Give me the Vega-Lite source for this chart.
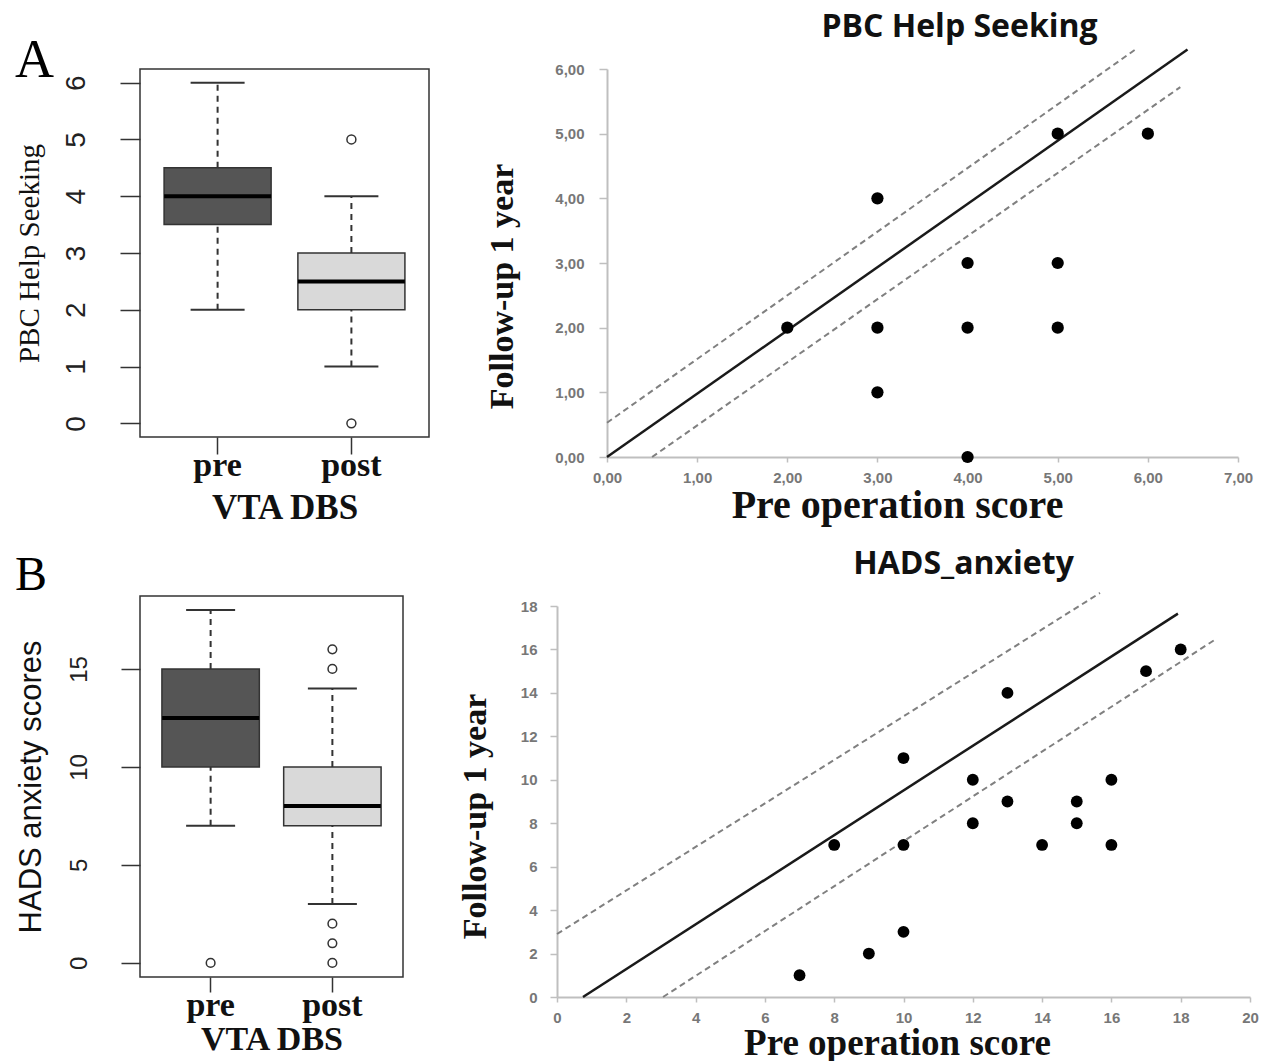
{
  "$schema": "https://vega.github.io/schema/vega-lite/v6.json",
  "background": "white",
  "padding": {"left": 14, "top": 10, "right": 0, "bottom": 0},
  "config": {"view": {"stroke": null}, "axis": {"grid": false, "labelOverlap": false}},
  "datasets": {
    "boxA": [
      {"grp": "pre", "lo": 2, "q1": 3.5, "med": 4, "q3": 4.5, "hi": 6},
      {"grp": "post", "lo": 1, "q1": 2, "med": 2.5, "q3": 3, "hi": 4}
    ],
    "outA": [{"grp": "post", "v": 5}, {"grp": "post", "v": 0}],
    "boxB": [
      {"grp": "pre", "lo": 7, "q1": 10, "med": 12.5, "q3": 15, "hi": 18},
      {"grp": "post", "lo": 3, "q1": 7, "med": 8, "q3": 10, "hi": 14}
    ],
    "outB": [
      {"grp": "pre", "v": 0}, {"grp": "post", "v": 16}, {"grp": "post", "v": 15},
      {"grp": "post", "v": 2}, {"grp": "post", "v": 1}, {"grp": "post", "v": 0}
    ],
    "ptsA": [
      {"pre": 2, "post": 2}, {"pre": 3, "post": 4}, {"pre": 3, "post": 2}, {"pre": 3, "post": 1},
      {"pre": 4, "post": 3}, {"pre": 4, "post": 2}, {"pre": 4, "post": 0}, {"pre": 5, "post": 5},
      {"pre": 5, "post": 3}, {"pre": 5, "post": 2}, {"pre": 6, "post": 5}
    ],
    "linesA": [
      {"line": "fit", "x": 0, "y": 0}, {"line": "fit", "x": 6.44, "y": 6.3},
      {"line": "upper", "x": 0, "y": 0.53}, {"line": "upper", "x": 5.86, "y": 6.3},
      {"line": "lower", "x": 0.5, "y": 0}, {"line": "lower", "x": 6.36, "y": 5.72}
    ],
    "ptsB": [
      {"pre": 7, "post": 1}, {"pre": 8, "post": 7}, {"pre": 9, "post": 2}, {"pre": 10, "post": 11},
      {"pre": 10, "post": 7}, {"pre": 10, "post": 3}, {"pre": 12, "post": 10}, {"pre": 12, "post": 8},
      {"pre": 13, "post": 14}, {"pre": 13, "post": 9}, {"pre": 14, "post": 7}, {"pre": 15, "post": 9},
      {"pre": 15, "post": 8}, {"pre": 16, "post": 10}, {"pre": 16, "post": 7}, {"pre": 17, "post": 15},
      {"pre": 18, "post": 16}
    ],
    "linesB": [
      {"line": "fit", "x": 0.75, "y": 0}, {"line": "fit", "x": 17.92, "y": 17.65},
      {"line": "upper", "x": 0, "y": 2.9}, {"line": "upper", "x": 15.67, "y": 18.6},
      {"line": "lower", "x": 3.06, "y": 0}, {"line": "lower", "x": 18.99, "y": 16.45}
    ]
  },
  "bounds": "flush",
  "columns": 2,
  "spacing": {"row": 139, "column": 128},
  "concat": [
    {
      "width": 289, "height": 368,
      "view": {"stroke": "#333333", "strokeWidth": 1.5},
      "title": {"text": "A", "anchor": "start", "frame": "bounds", "font": "Liberation Serif", "fontSize": 54, "fontWeight": "normal", "baseline": "alphabetic", "offset": -62, "color": "#000000"},
      "encoding": {
        "x": {
          "field": "grp", "type": "nominal",
          "scale": {"domain": ["pre", "post"], "paddingInner": 0, "paddingOuter": 0.08},
          "axis": {"title": "VTA DBS", "domain": false, "bandPosition": 0.5, "tickSize": 17, "tickColor": "#333333", "tickWidth": 1.5, "labelAngle": 0, "labelFont": "Liberation Serif", "labelFontWeight": "bold", "labelFontSize": 34, "labelColor": "#111111", "labelPadding": -6, "titleFont": "Liberation Serif", "titleFontWeight": "bold", "titleFontSize": 35, "titleColor": "#111111", "titlePadding": 8}
        }
      },
      "layer": [
        {
          "data": {"name": "boxA"},
          "mark": {"type": "rule", "strokeDash": [6, 5], "strokeWidth": 2, "color": "#333333"},
          "encoding": {
            "y": {"field": "lo", "type": "quantitative", "scale": {"domain": [-0.24, 6.24], "nice": false, "zero": false},
              "axis": {"title": "PBC Help Seeking", "values": [0, 1, 2, 3, 4, 5, 6], "format": "d", "domain": false, "tickSize": 20, "tickColor": "#333333", "tickWidth": 1.5, "labelFont": "Liberation Sans", "labelFontSize": 28, "labelColor": "#222222", "labelAngle": 270, "labelAlign": "center", "labelBaseline": "bottom", "labelPadding": 30, "labelFlush": false, "titleFont": "Liberation Serif", "titleFontSize": 29, "titleFontWeight": "normal", "titleColor": "#111111", "titlePadding": 18}},
            "y2": {"field": "q1"}
          }
        },
        {
          "data": {"name": "boxA"},
          "mark": {"type": "rule", "strokeDash": [6, 5], "strokeWidth": 2, "color": "#333333"},
          "encoding": {"y": {"field": "q3", "type": "quantitative", "title": "PBC Help Seeking"}, "y2": {"field": "hi"}}
        },
        {
          "data": {"name": "boxA"},
          "mark": {"type": "tick", "orient": "horizontal", "size": 54, "thickness": 2, "color": "#333333", "opacity": 1},
          "encoding": {"y": {"field": "lo", "type": "quantitative", "title": "PBC Help Seeking"}}
        },
        {
          "data": {"name": "boxA"},
          "mark": {"type": "tick", "orient": "horizontal", "size": 54, "thickness": 2, "color": "#333333", "opacity": 1},
          "encoding": {"y": {"field": "hi", "type": "quantitative", "title": "PBC Help Seeking"}}
        },
        {
          "data": {"name": "boxA"},
          "mark": {"type": "bar", "width": {"band": 0.8}, "stroke": "#333333", "strokeWidth": 1.5, "opacity": 1},
          "encoding": {
            "y": {"field": "q1", "type": "quantitative", "title": "PBC Help Seeking"},
            "y2": {"field": "q3"},
            "color": {"field": "grp", "type": "nominal", "scale": {"domain": ["pre", "post"], "range": ["#555555", "#d9d9d9"]}, "legend": null}
          }
        },
        {
          "data": {"name": "boxA"},
          "mark": {"type": "tick", "orient": "horizontal", "size": 107, "thickness": 4, "color": "#000000", "opacity": 1},
          "encoding": {"y": {"field": "med", "type": "quantitative", "title": "PBC Help Seeking"}}
        },
        {
          "data": {"name": "outA"},
          "mark": {"type": "point", "shape": "circle", "filled": false, "size": 80, "stroke": "#333333", "strokeWidth": 1.5, "opacity": 1},
          "encoding": {"y": {"field": "v", "type": "quantitative", "title": "PBC Help Seeking"}}
        }
      ]
    },
    {
      "width": 681, "height": 388,
      "title": {"text": "PBC Help Seeking", "frame": "group", "font": "Open Sans", "fontWeight": "bold", "fontSize": 32, "color": "#111111", "anchor": "middle", "dx": 62, "baseline": "alphabetic", "offset": -24},
      "layer": [
        {
          "data": {"name": "linesA"},
          "transform": [{"filter": "datum.line !== 'fit'"}],
          "mark": {"type": "line", "strokeDash": [6, 4], "strokeWidth": 2, "color": "#808080"},
          "encoding": {
            "x": {"field": "x", "type": "quantitative", "scale": {"domain": [0, 7], "nice": false, "range": [50, 681]},
              "axis": {"title": "Pre operation score", "values": [0, 1, 2, 3, 4, 5, 6, 7], "labelExpr": "replace(format(datum.value, '.2f'), '.', ',')", "domainColor": "#bfbfbf", "domainWidth": 2, "tickColor": "#bfbfbf", "tickWidth": 1.5, "tickSize": 5, "labelFont": "Liberation Sans", "labelFontSize": 15, "labelFontWeight": "bold", "labelColor": "#777777", "labelPadding": 8, "labelFlush": false, "titleFont": "Liberation Serif", "titleFontSize": 40, "titleFontWeight": "bold", "titleColor": "#111111", "titleX": 340, "titlePadding": 0}},
            "y": {"field": "y", "type": "quantitative", "scale": {"domain": [0, 6], "nice": false},
              "axis": {"title": "Follow-up 1 year", "offset": -50, "values": [0, 1, 2, 3, 4, 5, 6], "labelExpr": "replace(format(datum.value, '.2f'), '.', ',')", "domainColor": "#bfbfbf", "domainWidth": 2, "tickColor": "#bfbfbf", "tickWidth": 1.5, "tickSize": 8, "labelFont": "Liberation Sans", "labelFontSize": 15, "labelFontWeight": "bold", "labelColor": "#777777", "labelPadding": 15, "labelFlush": false, "titleFont": "Liberation Serif", "titleFontSize": 34, "titleFontWeight": "bold", "titleColor": "#111111", "titleY": 217, "titlePadding": 35}},
            "detail": {"field": "line", "type": "nominal"}
          }
        },
        {
          "data": {"name": "linesA"},
          "transform": [{"filter": "datum.line === 'fit'"}],
          "mark": {"type": "line", "strokeWidth": 2.5, "color": "#1a1a1a"},
          "encoding": {
            "x": {"field": "x", "type": "quantitative", "title": "Pre operation score"},
            "y": {"field": "y", "type": "quantitative", "title": "Follow-up 1 year"}
          }
        },
        {
          "data": {"name": "ptsA"},
          "mark": {"type": "circle", "size": 150, "color": "#000000", "opacity": 1},
          "encoding": {
            "x": {"field": "pre", "type": "quantitative", "title": "Pre operation score"},
            "y": {"field": "post", "type": "quantitative", "title": "Follow-up 1 year"}
          }
        }
      ]
    },
    {
      "width": 263, "height": 381,
      "view": {"stroke": "#333333", "strokeWidth": 1.5},
      "title": {"text": "B", "anchor": "start", "frame": "bounds", "font": "Liberation Serif", "fontSize": 48, "fontWeight": "normal", "baseline": "alphabetic", "offset": -42, "color": "#000000"},
      "encoding": {
        "x": {
          "field": "grp", "type": "nominal",
          "scale": {"domain": ["pre", "post"], "paddingInner": 0, "paddingOuter": 0.08},
          "axis": {"title": "VTA DBS", "domain": false, "bandPosition": 0.5, "tickSize": 15, "tickColor": "#333333", "tickWidth": 1.5, "labelAngle": 0, "labelFont": "Liberation Serif", "labelFontWeight": "bold", "labelFontSize": 34, "labelColor": "#111111", "labelPadding": -4, "titleFont": "Liberation Serif", "titleFontWeight": "bold", "titleFontSize": 34, "titleColor": "#111111", "titlePadding": 0}
        }
      },
      "layer": [
        {
          "data": {"name": "boxB"},
          "mark": {"type": "rule", "strokeDash": [6, 5], "strokeWidth": 2, "color": "#333333"},
          "encoding": {
            "y": {"field": "lo", "type": "quantitative", "scale": {"domain": [-0.72, 18.72], "nice": false, "zero": false},
              "axis": {"title": "HADS anxiety scores", "values": [0, 5, 10, 15], "format": "d", "domain": false, "tickSize": 19, "tickColor": "#333333", "tickWidth": 1.5, "labelFont": "Liberation Sans", "labelFontSize": 24, "labelColor": "#222222", "labelAngle": 270, "labelAlign": "center", "labelBaseline": "bottom", "labelPadding": 30, "labelFlush": false, "titleFont": "Liberation Sans", "titleFontSize": 31, "titleFontWeight": "normal", "titleColor": "#111111", "titlePadding": 20}},
            "y2": {"field": "q1"}
          }
        },
        {
          "data": {"name": "boxB"},
          "mark": {"type": "rule", "strokeDash": [6, 5], "strokeWidth": 2, "color": "#333333"},
          "encoding": {"y": {"field": "q3", "type": "quantitative", "title": "HADS anxiety scores"}, "y2": {"field": "hi"}}
        },
        {
          "data": {"name": "boxB"},
          "mark": {"type": "tick", "orient": "horizontal", "size": 49, "thickness": 2, "color": "#333333", "opacity": 1},
          "encoding": {"y": {"field": "lo", "type": "quantitative", "title": "HADS anxiety scores"}}
        },
        {
          "data": {"name": "boxB"},
          "mark": {"type": "tick", "orient": "horizontal", "size": 49, "thickness": 2, "color": "#333333", "opacity": 1},
          "encoding": {"y": {"field": "hi", "type": "quantitative", "title": "HADS anxiety scores"}}
        },
        {
          "data": {"name": "boxB"},
          "mark": {"type": "bar", "width": {"band": 0.8}, "stroke": "#333333", "strokeWidth": 1.5, "opacity": 1},
          "encoding": {
            "y": {"field": "q1", "type": "quantitative", "title": "HADS anxiety scores"},
            "y2": {"field": "q3"},
            "color": {"field": "grp", "type": "nominal", "scale": {"domain": ["pre", "post"], "range": ["#555555", "#d9d9d9"]}, "legend": null}
          }
        },
        {
          "data": {"name": "boxB"},
          "mark": {"type": "tick", "orient": "horizontal", "size": 97, "thickness": 4, "color": "#000000", "opacity": 1},
          "encoding": {"y": {"field": "med", "type": "quantitative", "title": "HADS anxiety scores"}}
        },
        {
          "data": {"name": "outB"},
          "mark": {"type": "point", "shape": "circle", "filled": false, "size": 75, "stroke": "#333333", "strokeWidth": 1.5, "opacity": 1},
          "encoding": {"y": {"field": "v", "type": "quantitative", "title": "HADS anxiety scores"}}
        }
      ]
    },
    {
      "width": 693, "height": 401,
      "title": {"text": "HADS_anxiety", "frame": "group", "font": "Open Sans", "fontWeight": "bold", "fontSize": 32, "color": "#111111", "anchor": "middle", "dx": 60, "baseline": "alphabetic", "offset": -17},
      "layer": [
        {
          "data": {"name": "linesB"},
          "transform": [{"filter": "datum.line !== 'fit'"}],
          "mark": {"type": "line", "strokeDash": [6, 4], "strokeWidth": 2, "color": "#808080"},
          "encoding": {
            "x": {"field": "x", "type": "quantitative", "scale": {"domain": [0, 20], "nice": false},
              "axis": {"title": "Pre operation score", "values": [0, 2, 4, 6, 8, 10, 12, 14, 16, 18, 20], "domainColor": "#bfbfbf", "domainWidth": 2, "tickColor": "#bfbfbf", "tickWidth": 1.5, "tickSize": 5, "labelFont": "Liberation Sans", "labelFontSize": 15, "labelFontWeight": "bold", "labelColor": "#777777", "labelPadding": 8, "labelFlush": false, "titleFont": "Liberation Serif", "titleFontSize": 37, "titleFontWeight": "bold", "titleColor": "#111111", "titleX": 340, "titlePadding": 0}},
            "y": {"field": "y", "type": "quantitative", "scale": {"domain": [0, 18], "nice": false, "range": [401, 10]},
              "axis": {"title": "Follow-up 1 year", "values": [0, 2, 4, 6, 8, 10, 12, 14, 16, 18], "domainColor": "#bfbfbf", "domainWidth": 2, "tickColor": "#bfbfbf", "tickWidth": 1.5, "tickSize": 7, "labelFont": "Liberation Sans", "labelFontSize": 15, "labelFontWeight": "bold", "labelColor": "#777777", "labelPadding": 13, "labelFlush": false, "titleFont": "Liberation Serif", "titleFontSize": 34, "titleFontWeight": "bold", "titleColor": "#111111", "titleY": 220, "titlePadding": 28}},
            "detail": {"field": "line", "type": "nominal"}
          }
        },
        {
          "data": {"name": "linesB"},
          "transform": [{"filter": "datum.line === 'fit'"}],
          "mark": {"type": "line", "strokeWidth": 2.5, "color": "#1a1a1a"},
          "encoding": {
            "x": {"field": "x", "type": "quantitative", "title": "Pre operation score"},
            "y": {"field": "y", "type": "quantitative", "title": "Follow-up 1 year"}
          }
        },
        {
          "data": {"name": "ptsB"},
          "mark": {"type": "circle", "size": 140, "color": "#000000", "opacity": 1},
          "encoding": {
            "x": {"field": "pre", "type": "quantitative", "title": "Pre operation score"},
            "y": {"field": "post", "type": "quantitative", "title": "Follow-up 1 year"}
          }
        }
      ]
    }
  ]
}
